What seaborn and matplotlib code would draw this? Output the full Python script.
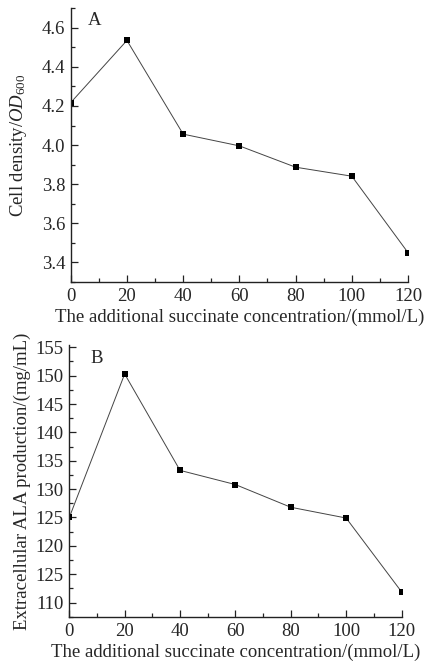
import matplotlib
matplotlib.use("Agg")
import matplotlib.pyplot as plt
from matplotlib.ticker import MultipleLocator, FixedLocator, FixedFormatter
import seaborn as sns
import pandas as pd

# Data
succinate = [0, 20, 40, 60, 80, 100, 120]
cell_density = [4.217, 4.535, 4.056, 3.996, 3.887, 3.841, 3.45]
ala_production = [125.0, 150.3, 133.3, 130.8, 126.8, 124.9, 111.9]

xlabel = "The additional succinate concentration/(mmol/L)"
ylabel_a = r"Cell density/$\mathit{OD}_{600}$"
ylabel_b = "Extracellular ALA production/(mg/mL)"
b_ticks = [110, 115, 120, 125, 130, 135, 140, 145, 150, 155]
b_ticklabels = ["110", "125", "120", "125", "130", "135", "140", "145", "150", "155"]

sns.set_style("ticks")
plt.rcParams["font.family"] = ["Liberation Serif", "DejaVu Serif"]
plt.rcParams["mathtext.fontset"] = "custom"
plt.rcParams["mathtext.rm"] = "Liberation Serif"
plt.rcParams["mathtext.it"] = "Liberation Serif:italic"

df = pd.DataFrame({"x": succinate, "a": cell_density, "b": ala_production})

fig = plt.figure(figsize=(4.27, 6.68), dpi=100)
axA = fig.add_axes([0.1656, 0.5778, 0.79, 0.410])
axB = fig.add_axes([0.1623, 0.0759, 0.778, 0.4076])

for ax, col in [(axA, "a"), (axB, "b")]:
    sns.lineplot(data=df, x="x", y=col, ax=ax, color="#444444", linewidth=0.7,
                 marker="s", markersize=4, markerfacecolor="black",
                 markeredgecolor="black", markeredgewidth=0)
    ax.set_xlim(0, 120)
    ax.xaxis.set_major_locator(MultipleLocator(20))
    ax.xaxis.set_minor_locator(MultipleLocator(10))
    ax.tick_params(axis="both", which="major", direction="in", length=5, width=0.9,
                   labelsize=13.5, color="#222222", pad=4)
    ax.tick_params(axis="both", which="minor", direction="in", length=3, width=0.9,
                   color="#222222")
    for s in ["top", "right"]:
        ax.spines[s].set_visible(False)
    for s in ["left", "bottom"]:
        ax.spines[s].set_linewidth(1.0)
        ax.spines[s].set_color("#222222")
    ax.set_xlabel(xlabel, fontsize=13.5, labelpad=3)

axA.set_ylim(3.3, 4.7)
axA.yaxis.set_major_locator(FixedLocator([3.4, 3.6, 3.8, 4.0, 4.2, 4.4, 4.6]))
axA.yaxis.set_major_formatter(FixedFormatter(["3.4", "3.6", "3.8", "4.0", "4.2", "4.4", "4.6"]))
axA.yaxis.set_minor_locator(MultipleLocator(0.1))
axA.set_ylabel(ylabel_a, fontsize=13.5, labelpad=9)
axA.text(0.072, 0.956, "A", transform=axA.transAxes, fontsize=13.5, ha="center", va="center")

axB.set_ylim(107.4, 155.4)
axB.yaxis.set_major_locator(FixedLocator(b_ticks))
axB.yaxis.set_major_formatter(FixedFormatter(b_ticklabels))
axB.yaxis.set_minor_locator(MultipleLocator(2.5))
axB.set_ylabel(ylabel_b, fontsize=13.5, labelpad=3)
axB.text(0.082, 0.952, "B", transform=axB.transAxes, fontsize=13.5, ha="center", va="center")

fig.savefig("out.png", dpi=100)
